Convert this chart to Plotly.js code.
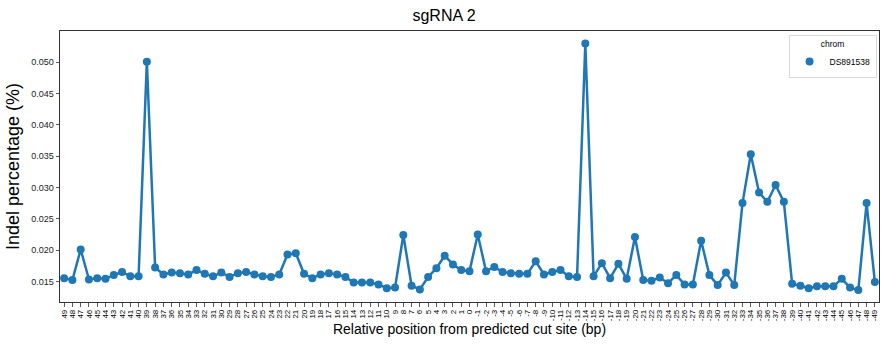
<!DOCTYPE html>
<html>
<head>
<meta charset="utf-8">
<script src="https://cdn.plot.ly/plotly-3.0.1.min.js"></script>
<style>html,body{margin:0;padding:0;background:#fff}#chart{width:888px;height:344px}</style>
</head>
<body>
<div id="chart"></div>
<script>
const positions = [];
for (let p = 49; p >= -49; p--) positions.push(String(p));

const indelPct = [
  0.0155, 0.0152, 0.0201, 0.0153, 0.0155, 0.0154, 0.0160, 0.0165, 0.0158, 0.0158,
  0.0501, 0.0172, 0.0161, 0.0164, 0.0163, 0.0161, 0.0168, 0.0162, 0.0158, 0.0164,
  0.0157, 0.0163, 0.0165, 0.0161, 0.0158, 0.0157, 0.0161, 0.0193, 0.0195, 0.0162,
  0.0155, 0.0161, 0.0163, 0.0161, 0.0157, 0.0148, 0.0148, 0.0148, 0.0145, 0.0139,
  0.0140, 0.0224, 0.0143, 0.0137, 0.0157, 0.0171, 0.0191, 0.0177, 0.0168, 0.0166,
  0.0225, 0.0166, 0.0173, 0.0165, 0.0163, 0.0162, 0.0162, 0.0182, 0.0161, 0.0165,
  0.0168, 0.0158, 0.0157, 0.0530, 0.0158, 0.0179, 0.0155, 0.0178, 0.0154, 0.0221,
  0.0152, 0.0151, 0.0156, 0.0147, 0.0160, 0.0145, 0.0145, 0.0215, 0.0160, 0.0144,
  0.0164, 0.0144, 0.0275, 0.0353, 0.0292, 0.0277, 0.0304, 0.0277, 0.0146, 0.0143,
  0.0139, 0.0142, 0.0142, 0.0142, 0.0154, 0.0140, 0.0136, 0.0275, 0.0149
];

const seriesName = 'DS891538';
const yTicks = [0.015, 0.020, 0.025, 0.030, 0.035, 0.040, 0.045, 0.050];

const font = 'Liberation Sans, Arial, sans-serif';

const trace = {
  x: positions,
  y: indelPct,
  type: 'scatter',
  mode: 'lines+markers',
  name: seriesName,
  line: {color: '#1f77b4', width: 2.5},
  marker: {color: '#1f77b4', size: 8},
  showlegend: false
};

// legend-only entry (marker symbol only, as in the reference)
const legendEntry = {
  x: [null],
  y: [null],
  type: 'scatter',
  mode: 'markers',
  name: seriesName,
  marker: {color: '#1f77b4', size: 8},
  showlegend: true
};

const layout = {
  width: 888,
  height: 344,
  margin: {l: 60, r: 9, t: 31, b: 42},
  paper_bgcolor: '#fff',
  plot_bgcolor: '#fff',
  font: {family: font, color: '#000'},
  title: {text: 'sgRNA 2', font: {size: 16, family: font, color: '#000'}, x: 0.5, xanchor: 'center', y: 0.955, yanchor: 'middle'},
  showlegend: true,
  legend: {
    x: 0.997, xanchor: 'right', y: 0.985, yanchor: 'top',
    bordercolor: '#d9d9d9', borderwidth: 1, bgcolor: 'rgba(255,255,255,0.8)',
    font: {size: 8.5, family: font},
    title: {text: 'chrom', side: 'top center', font: {size: 8.5, family: font}},
    itemwidth: 30,
    tracegroupgap: 0
  },
  xaxis: {
    type: 'category',
    categoryorder: 'array',
    categoryarray: positions,
    range: [-0.5, positions.length - 0.5],
    tickmode: 'array',
    tickvals: positions,
    ticktext: positions,
    tickangle: -90,
    tickfont: {size: 8, family: font, color: '#000'},
    ticks: 'outside', ticklen: 3.5, tickwidth: 0.8, tickcolor: '#333',
    showline: true, linecolor: '#333', linewidth: 1, mirror: true,
    showgrid: false, zeroline: false,
    title: {text: 'Relative position from predicted cut site (bp)', font: {size: 14, family: font, color: '#000'}, standoff: 2}
  },
  yaxis: {
    range: [0.0117, 0.0550],
    tickvals: yTicks,
    ticktext: yTicks.map(v => v.toFixed(3)),
    tickfont: {size: 9, family: font, color: '#222'},
    ticks: 'outside', ticklen: 3.5, tickwidth: 0.8, tickcolor: '#333',
    showline: true, linecolor: '#333', linewidth: 1, mirror: true,
    showgrid: false, zeroline: false,
    title: {text: 'Indel percentage (%)', font: {size: 18, family: font, color: '#000'}, standoff: 6}
  }
};

Plotly.newPlot('chart', [trace, legendEntry], layout, {displayModeBar: false, staticPlot: true});
</script>
</body>
</html>
